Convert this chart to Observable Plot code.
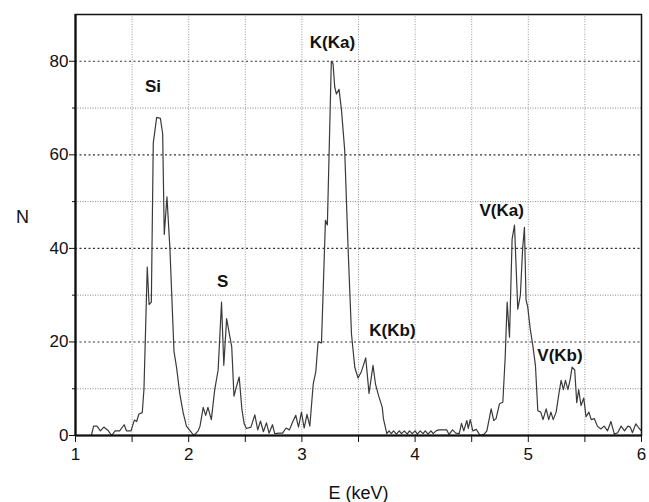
<!DOCTYPE html>
<html>
<head>
<meta charset="utf-8">
<script src="https://cdn.jsdelivr.net/npm/d3@7"></script>
<script src="https://cdn.jsdelivr.net/npm/@observablehq/plot@0.6"></script>
<style>
  html, body { margin: 0; padding: 0; background: #fff; }
  #chart svg { display: block; }
</style>
</head>
<body>
<div id="chart"></div>
<script>
// Spectrum: energy (keV) and counts N
const energy = [
  1.00, 1.14, 1.16, 1.19, 1.22, 1.25, 1.29, 1.32, 1.35, 1.39, 1.43, 1.45, 1.49, 1.52, 1.54, 1.56, 1.59,
  1.605, 1.634, 1.65, 1.67, 1.687, 1.717, 1.75, 1.77, 1.784, 1.808, 1.834, 1.87, 1.893, 1.922, 1.951,
  1.98, 2.017, 2.045, 2.084, 2.10, 2.128, 2.15, 2.17, 2.20, 2.23, 2.26, 2.29, 2.31, 2.335, 2.357, 2.38,
  2.40, 2.42, 2.446, 2.47, 2.49, 2.51, 2.55, 2.584, 2.61, 2.634, 2.66, 2.687, 2.71, 2.74, 2.76, 2.80,
  2.83, 2.86, 2.89, 2.92, 2.946, 2.97, 2.996, 3.02, 3.045, 3.07, 3.10, 3.123, 3.143, 3.173, 3.208,
  3.225, 3.26, 3.275, 3.29, 3.305, 3.328, 3.35, 3.378, 3.408, 3.438, 3.467, 3.496, 3.526, 3.564, 3.593,
  3.628, 3.65, 3.68, 3.71, 3.72, 3.75, 3.77, 3.79, 3.81, 3.835, 3.86, 3.88, 3.905, 3.93, 3.95, 3.975,
  4.00, 4.02, 4.045, 4.07, 4.09, 4.115, 4.14, 4.16, 4.185, 4.21, 4.25, 4.28, 4.30, 4.33, 4.36, 4.39,
  4.41, 4.43, 4.457, 4.47, 4.487, 4.51, 4.54, 4.575, 4.61, 4.634, 4.672, 4.695, 4.715, 4.746, 4.775,
  4.796, 4.813, 4.834, 4.857, 4.878, 4.907, 4.93, 4.95, 4.966, 4.98, 4.995, 5.017, 5.04, 5.063, 5.084,
  5.11, 5.13, 5.158, 5.18, 5.20, 5.22, 5.246, 5.27, 5.29, 5.31, 5.328, 5.35, 5.37, 5.387, 5.41, 5.428,
  5.445, 5.466, 5.49, 5.51, 5.535, 5.556, 5.584, 5.61, 5.64, 5.67, 5.70, 5.73, 5.76, 5.79, 5.82, 5.85,
  5.88, 5.90, 5.92, 5.95, 5.98, 6.00
];
const counts = [
  0, 0, 2, 2, 1, 1.8, 1, 0, 1, 1, 2.3, 1, 1, 3.3, 3, 4.6, 4.9,
  10, 36, 28, 28.5, 62.5, 68, 67.8, 64.5, 43, 51, 40, 18, 14.5, 8.8, 4.9,
  2, 0.9, 0, 1, 2, 6, 4.3, 6, 3.4, 9.8, 14, 28.5, 15, 25, 22, 19,
  8.4, 10.3, 12.5, 5.6, 2.5, 1.5, 1.8, 4.4, 1.2, 3.1, 0.8, 2.7, 0.5, 2.3, 0.4, 0.5,
  0.5, 1.6, 1.2, 3, 4.3, 1.8, 5, 1.6, 4.5, 2, 11, 13.7, 20, 19.8, 46,
  45, 80, 79.5, 74.5, 73, 74, 69.5, 61, 40, 21.7, 14.6, 12.3, 13.7, 16.6, 9,
  15, 11, 8.3, 6, 3.6, 0.4, 1, 0.4, 1, 0.3, 1, 0.4, 1, 0.3, 1, 0.4,
  1, 0.3, 1, 0.4, 1, 0.3, 1, 0.4, 1, 1.2, 1.2, 1.2, 0.2, 1.2, 0.5, 0.4,
  2.6, 1, 3.2, 1.5, 3.4, 1, 1.3, 0, 0.3, 1, 5.7, 3.2, 3.6, 6.8, 7.1,
  16.8, 28.5, 21, 42, 45, 27, 30, 40, 44.5, 29, 27.5, 22.8, 19.2, 15, 5.3,
  5, 3.4, 5.7, 3.4, 5, 3.4, 5, 8.9, 11.8, 9.8, 11.8, 9.8, 12, 14.6, 14, 7,
  9.8, 6.4, 8, 4, 5, 3.4, 3.6, 2, 1.4, 2, 1, 3, 0.3, 0.6, 2, 1,
  2, 1.8, 0.6, 2.5, 1.5, 1
];

// Peak labels
const peakLabels = ["Si", "S", "K(Ka)", "K(Kb)", "V(Ka)", "V(Kb)"];
const peakE = [1.684, 2.30, 3.27, 3.80, 4.765, 5.28];
const peakN = [74.7, 33, 83.9, 22.5, 48, 17.1];

// Ticks
const xTicks = [1, 2, 3, 4, 5, 6];
const xMinor = [1.5, 2.5, 3.5, 4.5, 5.5];
const xGrid = [1.5, 2, 2.5, 3, 3.5, 4, 4.5, 5, 5.5];
const yTicks = [0, 20, 40, 60, 80];
const yMinor = [10, 30, 50, 70];

const spectrum = energy.map((e, i) => ({e, n: counts[i]}));
const peaks = peakLabels.map((t, i) => ({t, e: peakE[i], n: peakN[i]}));

const font = "'Liberation Sans', Arial, Helvetica, sans-serif";

const chart = Plot.plot({
  width: 649,
  height: 502,
  marginLeft: 75,
  marginRight: 8,
  marginTop: 14,
  marginBottom: 67,
  style: {fontFamily: font, fontSize: "17px", color: "#111", background: "#fff"},
  x: {domain: [1, 6]},
  y: {domain: [0, 90]},
  marks: [
    Plot.ruleX(xGrid, {stroke: "#999", strokeWidth: 1, strokeDasharray: "1,1.5"}),
    Plot.ruleY(yMinor, {stroke: "#888", strokeWidth: 1, strokeDasharray: "1,1.5"}),
    Plot.ruleY([20, 40, 60, 80], {stroke: "#333", strokeWidth: 1.1, strokeDasharray: "2,2.5"}),
    Plot.line(spectrum, {x: "e", y: "n", stroke: "#3a3a3a", strokeWidth: 1.2}),
    Plot.frame({stroke: "#111", strokeWidth: 1.5}),
    Plot.ruleX([1], {stroke: "#111", strokeWidth: 2.2}),
    Plot.ruleY([0], {stroke: "#111", strokeWidth: 2.2}),
    Plot.axisY({ticks: yTicks, tickSize: 6, tickPadding: 1, tickFormat: d => String(d), label: null, fontSize: 17}),
    Plot.axisY({ticks: yMinor, tickSize: 3, tickFormat: () => "", label: null}),
    Plot.axisX({ticks: xTicks, tickSize: 7, tickPadding: 5, tickFormat: d => String(d), label: null, fontSize: 17}),
    Plot.axisX({ticks: xMinor, tickSize: 7, tickFormat: () => "", label: null}),
    Plot.text(peaks, {x: "e", y: "n", text: "t", fontSize: 17, fontWeight: "bold", fill: "#111", textAnchor: "middle", lineAnchor: "middle"}),
    Plot.text(["N"], {frameAnchor: "left", dx: -53, dy: -8, fontSize: 18, fill: "#111", textAnchor: "middle", lineAnchor: "middle"}),
    Plot.text(["E (keV)"], {frameAnchor: "bottom", dy: 58, fontSize: 18, fill: "#111", textAnchor: "middle", lineAnchor: "middle"})
  ]
});
document.getElementById("chart").appendChild(chart);
</script>
</body>
</html>
